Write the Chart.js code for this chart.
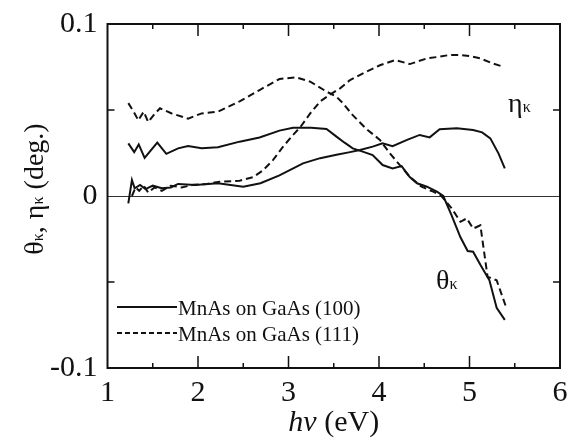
<!DOCTYPE html>
<html>
<head>
<meta charset="utf-8">
<script src="https://cdn.jsdelivr.net/npm/chart.js@4.4.1/dist/chart.umd.min.js"></script>
<style>
  body { margin: 0; background: #fff; }
  #wrap { width: 572px; height: 441px; }
</style>
</head>
<body>
<div id="wrap"><canvas id="kerr" width="572" height="441"></canvas></div>
<script>
// photon energy (eV) and Kerr rotation / ellipticity (deg.)
const theta100X = [1.23,1.295,1.345,1.41,1.55,1.65,1.78,1.89,2.04,2.22,2.46,2.68,2.9,3.05,3.25,3.42,3.53,3.62,3.71,3.82,3.93,4.04,4.15,4.25,4.34,4.42,4.53,4.64,4.71,4.8,4.9,4.98,5.04,5.12,5.22,5.3,5.39];
const theta100Y = [0.0306,0.0255,0.030,0.0222,0.031,0.0245,0.0277,0.029,0.0277,0.0283,0.0316,0.034,0.038,0.0397,0.0397,0.039,0.0345,0.031,0.0277,0.0258,0.0238,0.018,0.016,0.0174,0.011,0.0074,0.0054,0.0025,0.0,-0.011,-0.024,-0.032,-0.0324,-0.040,-0.049,-0.065,-0.072];

const theta111X = [1.23,1.30,1.34,1.40,1.45,1.51,1.58,1.71,1.89,2.04,2.22,2.46,2.68,2.9,3.08,3.24,3.42,3.53,3.6,3.71,3.86,4.01,4.12,4.23,4.34,4.47,4.6,4.69,4.8,4.9,4.97,5.04,5.12,5.16,5.2,5.3,5.4];
const theta111Y = [0.054,0.048,0.044,0.049,0.043,0.047,0.051,0.048,0.045,0.048,0.049,0.055,0.0616,0.068,0.069,0.0665,0.0607,0.0577,0.054,0.047,0.039,0.0326,0.0248,0.018,0.0112,0.0054,0.0025,0.0,-0.007,-0.015,-0.013,-0.019,-0.017,-0.032,-0.047,-0.049,-0.064];

const eta100X = [1.23,1.27,1.30,1.36,1.42,1.50,1.60,1.70,1.78,1.97,2.22,2.5,2.69,2.9,3.16,3.35,3.53,3.68,3.79,3.93,4.04,4.15,4.31,4.45,4.56,4.67,4.86,5.04,5.14,5.23,5.32,5.39];
const eta100Y = [-0.0043,0.0093,0.0045,0.0064,0.004,0.006,0.0045,0.005,0.007,0.0064,0.0074,0.0054,0.0074,0.012,0.019,0.022,0.024,0.0255,0.0267,0.0287,0.0306,0.029,0.0326,0.0355,0.0341,0.0388,0.0394,0.0384,0.037,0.0335,0.0248,0.016];

const eta111X = [1.27,1.31,1.35,1.40,1.45,1.52,1.60,1.70,1.82,1.95,2.1,2.24,2.46,2.61,2.72,2.83,2.94,3.05,3.13,3.24,3.35,3.48,3.57,3.68,3.86,4.01,4.18,4.34,4.53,4.67,4.78,4.9,5.0,5.12,5.26,5.37];
const eta111Y = [0.000,0.005,0.003,0.006,0.002,0.005,0.003,0.006,0.005,0.0065,0.007,0.0083,0.0089,0.011,0.015,0.021,0.0287,0.0355,0.040,0.048,0.055,0.0597,0.0626,0.0674,0.0723,0.076,0.079,0.0767,0.080,0.081,0.082,0.082,0.0814,0.080,0.077,0.0752];

const legendLabels = ['MnAs on GaAs (100)', 'MnAs on GaAs (111)'];
const xTickLabels = ['1', '2', '3', '4', '5', '6'];
const yTickLabels = ['-0.1', '0', '0.1'];

const SERIF = '"Liberation Serif", "DejaVu Serif", serif';
const INK = '#111';

function pts(xs, ys) {
  return xs.map((v, i) => ({ x: v, y: ys[i] }));
}

function curve(xs, ys, dashed) {
  return {
    data: pts(xs, ys),
    showLine: true,
    borderColor: INK,
    borderWidth: 2,
    borderDash: dashed ? [7, 4] : [],
    pointRadius: 0,
    tension: 0,
    fill: false
  };
}

// draw a run of text pieces with different fonts side by side
function drawParts(ctx, parts, x, y, align) {
  let total = 0;
  parts.forEach(p => { ctx.font = p.font; p.w = ctx.measureText(p.t).width; total += p.w; });
  let cx = align === 'center' ? x - total / 2 : x;
  parts.forEach(p => {
    ctx.font = p.font;
    ctx.fillText(p.t, cx, y + (p.dy || 0));
    cx += p.w;
  });
}

// frame, inward ticks, titles, labels and legend
const decor = {
  id: 'decor',
  afterDraw(chart) {
    const { ctx, chartArea: a, scales: { x, y } } = chart;
    ctx.save();
    ctx.strokeStyle = INK;
    ctx.fillStyle = INK;

    ctx.lineWidth = 2;
    ctx.strokeRect(a.left, a.top, a.right - a.left, a.bottom - a.top);

    ctx.lineWidth = 1.5;
    ctx.beginPath();
    for (let v = 1.5; v < 6; v += 0.5) {
      const px = x.getPixelForValue(v);
      const len = Number.isInteger(v) ? 12 : 5;
      ctx.moveTo(px, a.bottom); ctx.lineTo(px, a.bottom - len);
      ctx.moveTo(px, a.top); ctx.lineTo(px, a.top + len);
    }
    [0.05, -0.05].forEach(v => {
      const py = y.getPixelForValue(v);
      ctx.moveTo(a.left, py); ctx.lineTo(a.left + 7, py);
      ctx.moveTo(a.right, py); ctx.lineTo(a.right - 7, py);
    });
    ctx.stroke();

    ctx.textBaseline = 'alphabetic';

    // x title
    drawParts(ctx, [
      { t: 'hν', font: 'italic 30px ' + SERIF },
      { t: ' (eV)', font: '30px ' + SERIF }
    ], (a.left + a.right) / 2, 431, 'center');

    // y title
    ctx.save();
    ctx.translate(43, 189);
    ctx.rotate(-Math.PI / 2);
    drawParts(ctx, [
      { t: 'θ', font: '28px ' + SERIF },
      { t: 'κ', font: '16px ' + SERIF },
      { t: ', η', font: '28px ' + SERIF },
      { t: 'κ', font: '16px ' + SERIF },
      { t: ' (deg.)', font: '28px ' + SERIF }
    ], 0, 0, 'center');
    ctx.restore();

    // curve labels
    drawParts(ctx, [
      { t: 'η', font: '28px ' + SERIF },
      { t: 'κ', font: '16px ' + SERIF }
    ], 508, 112, 'left');
    drawParts(ctx, [
      { t: 'θ', font: '28px ' + SERIF },
      { t: 'κ', font: '16px ' + SERIF }
    ], 436, 289, 'left');

    // legend
    const rows = [307, 333];
    rows.forEach((ry, i) => {
      ctx.lineWidth = 2;
      ctx.setLineDash(i === 0 ? [] : [5, 3]);
      ctx.beginPath();
      ctx.moveTo(117, ry); ctx.lineTo(177, ry);
      ctx.stroke();
      ctx.setLineDash([]);
      ctx.font = '21px ' + SERIF;
      ctx.textBaseline = 'middle';
      ctx.fillText(legendLabels[i], 178, ry + 2);
    });
    ctx.restore();
  }
};

function sameNum(a, b) { return Math.abs(a - b) < 1e-9; }

new Chart(document.getElementById('kerr'), {
  type: 'scatter',
  data: {
    datasets: [
      curve(theta100X, theta100Y, false),
      curve(eta100X, eta100Y, false),
      curve(theta111X, theta111Y, true),
      curve(eta111X, eta111Y, true)
    ]
  },
  options: {
    responsive: false,
    animation: false,
    events: [],
    layout: { padding: { left: 0, right: 12, top: 24, bottom: 0 } },
    plugins: { legend: { display: false }, tooltip: { enabled: false } },
    scales: {
      x: {
        type: 'linear',
        min: 1, max: 6,
        afterFit: s => { s.height = 73; s.paddingLeft = 0; s.paddingRight = 0; },
        grid: { display: false, drawTicks: false },
        border: { display: false },
        ticks: {
          stepSize: 0.5,
          autoSkip: false,
          maxRotation: 0,
          padding: 7,
          color: INK,
          font: { family: SERIF, size: 30 },
          callback: v => {
            const lab = xTickLabels.find(t => sameNum(Number(t), v));
            return lab === undefined ? '' : lab;
          }
        }
      },
      y: {
        type: 'linear',
        min: -0.1, max: 0.1,
        afterFit: s => { s.width = 107.5; s.paddingTop = 0; s.paddingBottom = 0; },
        grid: {
          drawTicks: false,
          lineWidth: 1,
          color: c => sameNum(c.tick.value, 0) ? '#333' : 'rgba(0,0,0,0)'
        },
        border: { display: false },
        ticks: {
          stepSize: 0.05,
          autoSkip: false,
          padding: 10,
          color: INK,
          font: { family: SERIF, size: 30 },
          callback: v => {
            const lab = yTickLabels.find(t => sameNum(Number(t), v));
            return lab === undefined ? '' : lab;
          }
        }
      }
    }
  },
  plugins: [decor]
});
</script>
</body>
</html>
